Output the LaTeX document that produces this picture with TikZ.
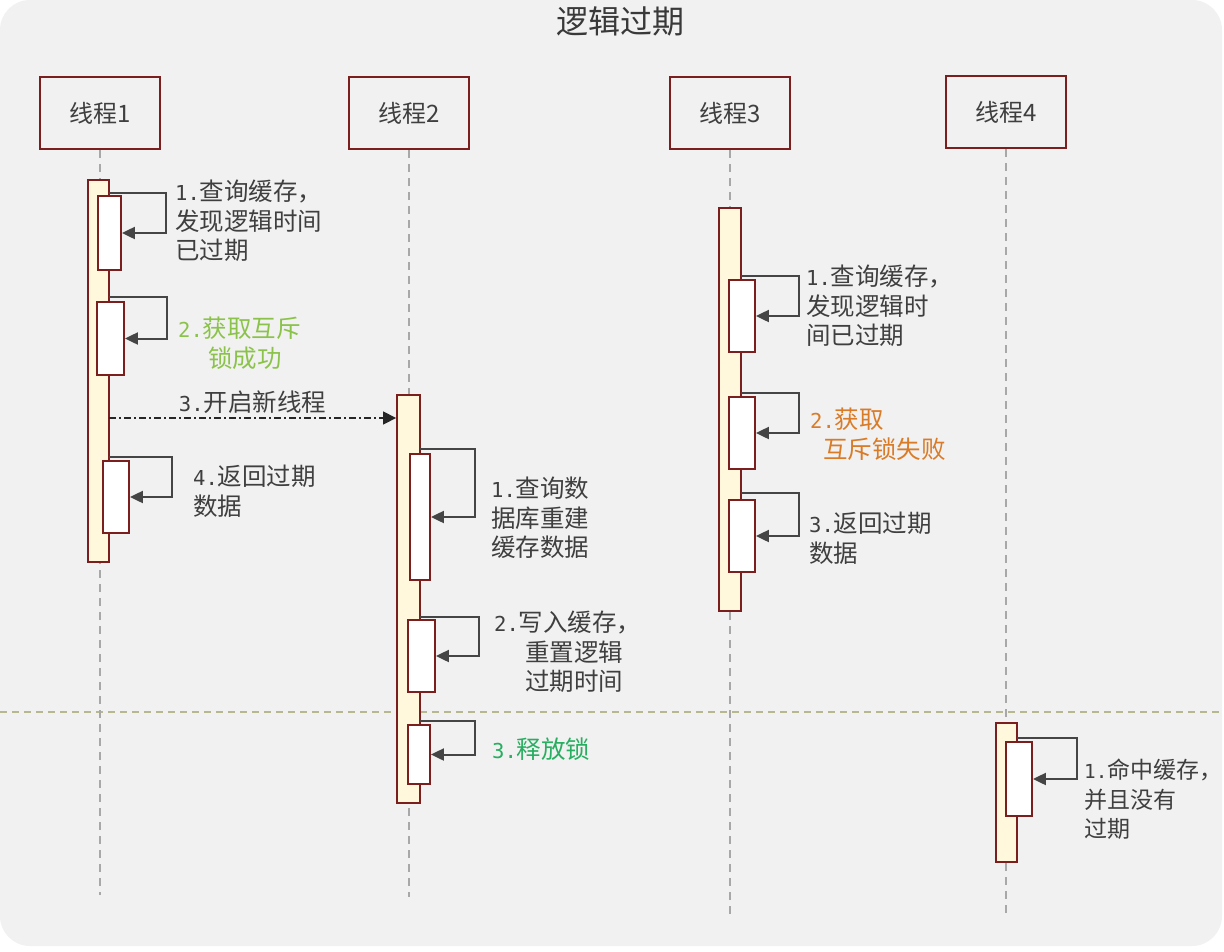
\documentclass[tikz,border=0pt]{standalone}
\usepackage{fontspec}
\setmainfont{Noto Sans CJK SC}
\newfontfamily\monofnt[Scale=0.84]{DejaVu Sans Mono}
\usetikzlibrary{arrows.meta}
\newcommand{\nb}[1]{{\monofnt #1}}
\definecolor{bgc}{HTML}{F1F1F1}
\definecolor{brd}{HTML}{7A1E1E}
\definecolor{cream}{HTML}{FFF8DC}
\definecolor{txt}{HTML}{3F3F3F}
\definecolor{arrc}{HTML}{454545}
\definecolor{lifec}{HTML}{A8A8A8}
\definecolor{greenA}{HTML}{8BC34A}
\definecolor{greenB}{HTML}{27AE60}
\definecolor{orangeA}{HTML}{D97B27}
\definecolor{olive}{HTML}{B8B890}
\begin{document}
\begin{tikzpicture}[x=1pt,y=-1pt,
  head/.style={draw=brd, line width=2pt, fill=bgc, minimum width=120pt, minimum height=72pt, inner sep=0pt, font=\fontsize{24}{28}\selectfont, text=txt},
  outerbar/.style={draw=brd, line width=1.8pt, fill=cream, inner sep=0pt},
  innerbar/.style={draw=brd, line width=1.8pt, fill=white, inner sep=0pt},
  lbl/.style={anchor=north west, inner sep=0pt, align=left, font=\fontsize{24.5}{29.5}\selectfont, text=txt},
  selfmsg/.style={draw=arrc, line width=2pt, -{Triangle[length=13pt,width=12pt]}},
  async/.style={draw=black!85, line width=1.3pt, dash pattern=on 7pt off 3pt on 2pt off 3pt, -{Triangle[length=13pt,width=13pt]}},
  life/.style={draw=lifec, line width=1.2pt, dash pattern=on 8pt off 6pt}
]
\useasboundingbox (0,0) rectangle (1224,951);
\fill[white] (0,0) rectangle (1224,951);
\fill[bgc, rounded corners=30pt] (0,0) rectangle (1222,946);

% title
\node[font=\fontsize{32}{36}\selectfont, text=txt!90!black, inner sep=0pt] (title) at (620,21) {逻辑过期};

% separator
\coordinate (sepL) at (0,712);
\coordinate (sepR) at (1224,712);
\draw[olive, line width=1.2pt, dash pattern=on 7pt off 5pt] (sepL) -- (sepR);

% heads
\node[head] (h1) at (100,113) {线程1};
\node[head] (h2) at (409,113) {线程2};
\node[head] (h3) at (730,113) {线程3};
\node[head] (h4) at (1006,112) {线程4};

% lifelines
\coordinate (e1) at (100,895);
\coordinate (e2) at (409,897);
\coordinate (e3) at (730,915);
\coordinate (e4) at (1006,915);
\draw[life] (h1.south) -- (e1);
\draw[life] (h2.south) -- (e2);
\draw[life] (h3.south) -- (e3);
\draw[life] (h4.south) -- (e4);

% outer activation bars
\node[outerbar, minimum width=21pt, minimum height=382pt] (A) at (98.5,371) {};
\node[outerbar, minimum width=23pt, minimum height=408pt] (B) at (408.5,599) {};
\node[outerbar, minimum width=22pt, minimum height=403pt] (C) at (730,409.5) {};
\node[outerbar, minimum width=21pt, minimum height=139pt] (D) at (1006.5,792.5) {};

% inner bars
\node[innerbar, minimum width=23pt, minimum height=74pt] (a1) at (109.5,233) {};
\node[innerbar, minimum width=27pt, minimum height=73pt] (a2) at (110.5,338.5) {};
\node[innerbar, minimum width=26pt, minimum height=72pt] (a3) at (116,497) {};
\node[innerbar, minimum width=20pt, minimum height=126pt] (b1) at (420,517) {};
\node[innerbar, minimum width=27pt, minimum height=72pt] (b2) at (421.5,656) {};
\node[innerbar, minimum width=22pt, minimum height=59pt] (b3) at (419,754.5) {};
\node[innerbar, minimum width=26pt, minimum height=72pt] (c1) at (742,316) {};
\node[innerbar, minimum width=26pt, minimum height=72pt] (c2) at (742,433) {};
\node[innerbar, minimum width=26pt, minimum height=72pt] (c3) at (742,536) {};
\node[innerbar, minimum width=26pt, minimum height=74pt] (d1) at (1019,779) {};

% self messages
\coordinate (sa1) at (109,193);
\coordinate (sa2) at (109,297);
\coordinate (sa3) at (109,457);
\coordinate (sb1) at (420,449);
\coordinate (sb2) at (420,617);
\coordinate (sb3) at (420,721);
\coordinate (sc1) at (741,276);
\coordinate (sc2) at (741,393);
\coordinate (sc3) at (741,493);
\coordinate (sd1) at (1017,738);
\draw[selfmsg] (sa1) -| ([xshift=44pt]a1.east) -- (a1.east);
\draw[selfmsg] (sa2) -| ([xshift=42pt]a2.east) -- (a2.east);
\draw[selfmsg] (sa3) -| ([xshift=42pt]a3.east) -- (a3.east);
\draw[selfmsg] (sb1) -| ([xshift=44pt]b1.east) -- (b1.east);
\draw[selfmsg] (sb2) -| ([xshift=43pt]b2.east) -- (b2.east);
\draw[selfmsg] (sb3) -| ([xshift=44pt]b3.east) -- (b3.east);
\draw[selfmsg] (sc1) -| ([xshift=43pt]c1.east) -- (c1.east);
\draw[selfmsg] (sc2) -| ([xshift=43pt]c2.east) -- (c2.east);
\draw[selfmsg] (sc3) -| ([xshift=43pt]c3.east) -- (c3.east);
\draw[selfmsg] (sd1) -| ([xshift=44pt]d1.east) -- (d1.east);

% async message
\coordinate (m3) at (109,418);
\draw[async] (m3) -- node[midway, above=4pt, inner sep=0pt, font=\fontsize{24.5}{29.5}\selectfont, text=txt] (m3l) {\nb{3.}开启新线程} (m3 -| B.west);

% labels
\node[lbl] (t1a) at (175,180) {\nb{1.}查询缓存，\\发现逻辑时间\\已过期};
\node[lbl, text=greenA] (t1b) at (178,317) {\nb{2.}获取互斥\\\hspace*{30pt}锁成功};
\node[lbl] (t1c) at (193,465) {\nb{4.}返回过期\\数据};
\node[lbl] (t2a) at (491,477) {\nb{1.}查询数\\据库重建\\缓存数据};
\node[lbl] (t2b) at (494,611) {\nb{2.}写入缓存，\\\hspace*{31pt}重置逻辑\\\hspace*{31pt}过期时间};
\node[lbl, text=greenB] (t2c) at (492,738) {\nb{3.}释放锁};
\node[lbl] (t3a) at (806,265) {\nb{1.}查询缓存，\\发现逻辑时\\间已过期};
\node[lbl, text=orangeA] (t3b) at (810,408) {\nb{2.}获取\\\hspace*{13pt}互斥锁失败};
\node[lbl] (t3c) at (809,512) {\nb{3.}返回过期\\数据};
\node[lbl, font=\fontsize{23}{29.5}\selectfont] (t4a) at (1084,759) {\nb{1.}命中缓存\makebox[10pt][l]{，}\\并且没有\\过期};
\end{tikzpicture}
\end{document}
